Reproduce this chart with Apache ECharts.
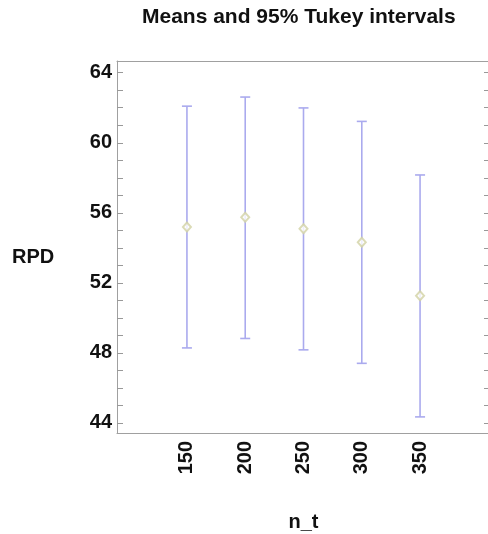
<!DOCTYPE html>
<html>
<head>
<meta charset="utf-8">
<script src="https://cdn.jsdelivr.net/npm/echarts@6/dist/echarts.min.js"></script>
<style>
  html, body { margin: 0; padding: 0; background: #fff; }
  #chart { width: 488px; height: 534px; }
</style>
</head>
<body>
<div id="chart"></div>
<script>
// Group levels of n_t with mean RPD and the 95% Tukey interval bounds
const nt = [150, 200, 250, 300, 350];
const means = [55.19, 55.74, 55.09, 54.32, 51.26];
const lower = [48.28, 48.82, 48.17, 47.40, 44.34];
const upper = [62.09, 62.61, 61.99, 61.22, 58.16];

const yLabelTicks = [44, 48, 52, 56, 60, 64];
const yMinorTicks = [44, 45, 46, 47, 48, 49, 50, 51, 52, 53, 54, 55, 56, 57, 58, 59, 60, 61, 62, 63, 64];

const FONT = 'Liberation Sans, Arial, Helvetica, sans-serif';
const BAR_COLOR = '#aaaaee';
const MEAN_COLOR = '#d2d2a4';
const FRAME_COLOR = '#a0a0a0';

const intervalData = nt.map((x, i) => [x, lower[i], upper[i]]);
const meanData = nt.map((x, i) => [x, means[i]]);

const chart = echarts.init(document.getElementById('chart'), null, { renderer: 'canvas' });

const yCommon = {
  type: 'value',
  min: 43.42,
  max: 64.67,
  splitLine: { show: false },
  axisTick: {
    show: true,
    inside: true,
    length: 6,
    customValues: yMinorTicks,
    lineStyle: { color: '#999', width: 1 }
  }
};

const xCommon = {
  type: 'value',
  min: 90,
  max: 410,
  splitLine: { show: false },
  axisTick: { show: false },
  axisLine: { show: true, onZero: false, lineStyle: { color: FRAME_COLOR, width: 1 } }
};

chart.setOption({
  animation: false,
  title: [
    {
      text: 'Means and 95% Tukey intervals',
      left: 137,
      top: 2,
      textStyle: { fontFamily: FONT, fontWeight: 'bold', fontSize: 21, color: '#111' }
    },
    {
      text: 'RPD',
      left: 7,
      top: 242,
      textStyle: { fontFamily: FONT, fontWeight: 'bold', fontSize: 20, color: '#111' }
    }
  ],
  grid: {
    left: 117,
    top: 61,
    width: 373,
    height: 372,
    show: false,
    containLabel: false,
    outerBoundsMode: 'none'
  },
  xAxis: [
    Object.assign({}, xCommon, {
      position: 'bottom',
      name: 'n_t',
      nameLocation: 'middle',
      nameGap: 79,
      nameTextStyle: { fontFamily: FONT, fontWeight: 'bold', fontSize: 20, color: '#111' },
      axisLabel: {
        customValues: nt,
        rotate: 90,
        margin: 8,
        fontFamily: FONT,
        fontWeight: 'bold',
        fontSize: 20,
        color: '#111'
      }
    }),
    Object.assign({}, xCommon, {
      position: 'top',
      axisLabel: { show: false }
    })
  ],
  yAxis: [
    Object.assign({}, yCommon, {
      position: 'left',
      axisLine: { show: true, onZero: false, lineStyle: { color: FRAME_COLOR, width: 1 } },
      axisLabel: {
        customValues: yLabelTicks,
        margin: 5,
        fontFamily: FONT,
        fontWeight: 'bold',
        fontSize: 20,
        color: '#111'
      }
    }),
    Object.assign({}, yCommon, {
      position: 'right',
      axisLine: { show: false },
      axisLabel: { show: false }
    })
  ],
  series: [
    {
      name: 'interval',
      type: 'custom',
      xAxisIndex: 0,
      yAxisIndex: 0,
      data: intervalData,
      renderItem: function (params, api) {
        const x = api.value(0);
        const lo = api.coord([x, api.value(1)]);
        const hi = api.coord([x, api.value(2)]);
        const half = 5;
        const style = { stroke: BAR_COLOR, lineWidth: 1.6, fill: null };
        return {
          type: 'group',
          children: [
            { type: 'line', shape: { x1: lo[0], y1: lo[1], x2: hi[0], y2: hi[1] }, style: style },
            { type: 'line', shape: { x1: hi[0] - half, y1: hi[1], x2: hi[0] + half, y2: hi[1] }, style: style },
            { type: 'line', shape: { x1: lo[0] - half, y1: lo[1], x2: lo[0] + half, y2: lo[1] }, style: style }
          ]
        };
      },
      z: 2
    },
    {
      name: 'mean',
      type: 'scatter',
      xAxisIndex: 0,
      yAxisIndex: 0,
      data: meanData,
      symbol: 'emptyDiamond',
      symbolSize: [8, 9],
      itemStyle: { color: MEAN_COLOR, borderColor: MEAN_COLOR, borderWidth: 1.2 },
      z: 3
    }
  ]
});
</script>
</body>
</html>
